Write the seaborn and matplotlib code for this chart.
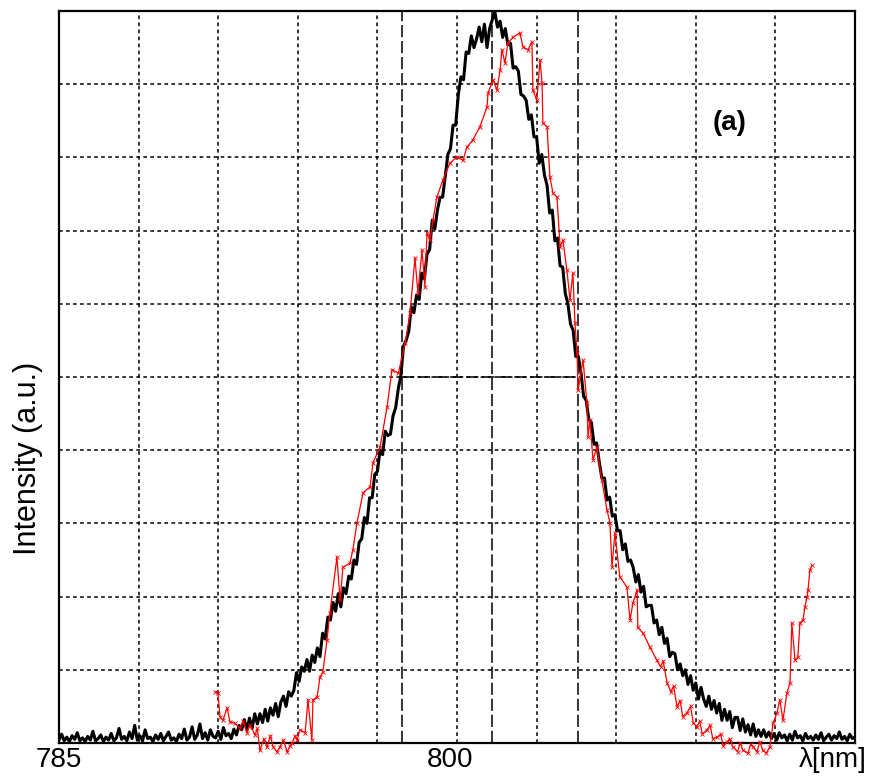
import numpy as np
import pandas as pd
import matplotlib
matplotlib.use("Agg")
import matplotlib.pyplot as plt
import seaborn as sns

# ---------------- data ----------------
# black spectrum, sampled every 0.1 nm starting at 785.0 nm (one row per nm)
black_start = 785.0
black_step = 0.1
black_rows = [
    [0.004, 0.012, 0.003, 0.008, 0.002, 0.010, 0.005, 0.014, 0.003, 0.007],  # 785
    [0.002, 0.009, 0.004, 0.016, 0.003, 0.006, 0.011, 0.002, 0.008, 0.004],  # 786
    [0.013, 0.003, 0.007, 0.020, 0.005, 0.009, 0.003, 0.015, 0.006, 0.024],  # 787
    [0.004, 0.010, 0.003, 0.018, 0.006, 0.008, 0.002, 0.011, 0.005, 0.013],  # 788
    [0.003, 0.009, 0.015, 0.004, 0.007, 0.002, 0.012, 0.006, 0.019, 0.004],  # 789
    [0.008, 0.022, 0.005, 0.011, 0.026, 0.006, 0.014, 0.004, 0.018, 0.009],  # 790
    [0.007, 0.016, 0.005, 0.021, 0.010, 0.013, 0.006, 0.019, 0.011, 0.024],  # 791
    [0.018, 0.032, 0.018, 0.034, 0.020, 0.040, 0.026, 0.040, 0.028, 0.046],  # 792
    [0.030, 0.048, 0.038, 0.054, 0.036, 0.056, 0.064, 0.050, 0.070, 0.064],  # 793
    [0.072, 0.096, 0.084, 0.104, 0.098, 0.114, 0.098, 0.120, 0.110, 0.130],  # 794
    [0.118, 0.150, 0.142, 0.172, 0.168, 0.192, 0.180, 0.204, 0.186, 0.212],  # 795
    [0.204, 0.228, 0.224, 0.250, 0.244, 0.274, 0.279, 0.308, 0.300, 0.335],  # 796
    [0.335, 0.367, 0.371, 0.400, 0.394, 0.426, 0.420, 0.422, 0.447, 0.458],  # 797
    [0.484, 0.502, 0.542, 0.550, 0.562, 0.596, 0.588, 0.612, 0.606, 0.642],  # 798
    [0.634, 0.668, 0.674, 0.714, 0.702, 0.728, 0.745, 0.746, 0.774, 0.804],  # 799
    [0.812, 0.844, 0.844, 0.886, 0.910, 0.906, 0.944, 0.942, 0.966, 0.950],  # 800
    [0.962, 0.978, 0.958, 0.982, 0.950, 0.976, 0.988, 0.999, 0.978, 0.986],  # 801
    [0.964, 0.976, 0.954, 0.956, 0.922, 0.924, 0.918, 0.886, 0.884, 0.878],  # 802
    [0.852, 0.858, 0.828, 0.828, 0.792, 0.804, 0.776, 0.762, 0.724, 0.728],  # 803
    [0.686, 0.690, 0.652, 0.650, 0.614, 0.600, 0.572, 0.564, 0.528, 0.528],  # 804
    [0.506, 0.474, 0.468, 0.442, 0.438, 0.408, 0.410, 0.384, 0.362, 0.362],  # 805
    [0.332, 0.336, 0.310, 0.312, 0.290, 0.290, 0.264, 0.272, 0.248, 0.250],  # 806
    [0.240, 0.220, 0.230, 0.206, 0.214, 0.186, 0.188, 0.188, 0.164, 0.168],  # 807
    [0.148, 0.158, 0.136, 0.143, 0.118, 0.124, 0.122, 0.100, 0.108, 0.092],  # 808
    [0.100, 0.080, 0.092, 0.072, 0.082, 0.060, 0.076, 0.060, 0.050, 0.064],  # 809
    [0.046, 0.058, 0.041, 0.054, 0.031, 0.046, 0.031, 0.043, 0.021, 0.035],  # 810
    [0.035, 0.017, 0.033, 0.015, 0.025, 0.011, 0.026, 0.009, 0.018, 0.009],  # 811
    [0.018, 0.008, 0.015, 0.006, 0.013, 0.004, 0.014, 0.007, 0.011, 0.003],  # 812
    [0.012, 0.004, 0.016, 0.007, 0.010, 0.003, 0.013, 0.006, 0.009, 0.004],  # 813
    [0.011, 0.005, 0.014, 0.003, 0.008, 0.012, 0.004, 0.010, 0.006, 0.015],  # 814
    [0.005, 0.009, 0.003, 0.012, 0.006, 0.008],                              # 815
]

# red spectrum (wavelength nm, intensity)
red_wl = [
    790.98, 791.09, 791.17, 791.28, 791.44, 791.55, 791.74, 791.93, 792.05, 792.20,
    792.32, 792.51, 792.60, 792.70, 792.85, 792.97, 793.10, 793.20, 793.35, 793.47,
    793.60, 793.74, 793.85, 793.93, 794.05, 794.12, 794.23, 794.43, 794.54, 794.69,
    794.73, 794.89, 795.00, 795.11, 795.27, 795.38, 795.65, 795.77, 795.88, 796.15,
    796.26, 796.42, 796.65, 796.92, 797.03, 797.30, 797.57, 797.76, 798.00, 798.26,
    798.45, 798.64, 798.75, 798.91, 799.02, 799.10, 799.21, 799.33, 799.48, 799.71,
    799.98, 800.25, 800.48, 800.63, 800.86, 801.13, 801.40, 801.44, 801.63, 801.78,
    801.90, 801.97, 802.09, 802.20, 802.39, 802.66, 802.78, 802.97, 803.12, 803.16,
    803.31, 803.43, 803.51, 803.54, 803.70, 803.81, 803.93, 804.08, 804.20, 804.31,
    804.46, 804.58, 804.69, 804.77, 804.85, 804.89, 805.08, 805.23, 805.27, 805.34,
    805.46, 805.61, 805.80, 806.00, 806.11, 806.19, 806.30, 806.49, 806.76, 806.88,
    806.99, 807.15, 807.18, 807.38, 807.64, 807.91, 808.05, 808.15, 808.30, 808.45,
    808.55, 808.68, 808.80, 808.90, 809.06, 809.20, 809.30, 809.44, 809.55, 809.65,
    809.83, 809.95, 810.05, 810.21, 810.35, 810.45, 810.59, 810.70, 810.82, 811.00,
    811.10, 811.21, 811.40, 811.50, 811.59, 811.75, 811.85, 811.97, 812.10, 812.24,
    812.36, 812.51, 812.62, 812.74, 812.89, 813.01, 813.08, 813.20, 813.31, 813.39,
    813.51, 813.58, 813.66, 813.70, 813.77, 813.85,
]
red_int = [
    0.070, 0.068, 0.036, 0.031, 0.048, 0.029, 0.027, 0.020, 0.030, 0.014,
    0.025, 0.011, 0.020, -0.010, 0.006, -0.006, 0.010, -0.005, -0.012, -0.005,
    0.004, -0.012, -0.004, 0.000, 0.010, 0.004, 0.018, 0.014, 0.059, 0.004,
    0.059, 0.063, 0.090, 0.097, 0.141, 0.178, 0.254, 0.195, 0.240, 0.246,
    0.264, 0.301, 0.342, 0.350, 0.383, 0.404, 0.459, 0.510, 0.505, 0.546,
    0.587, 0.663, 0.615, 0.673, 0.623, 0.697, 0.687, 0.714, 0.746, 0.769,
    0.792, 0.801, 0.796, 0.814, 0.824, 0.842, 0.869, 0.888, 0.906, 0.892,
    0.919, 0.947, 0.929, 0.956, 0.964, 0.970, 0.951, 0.947, 0.958, 0.892,
    0.878, 0.933, 0.902, 0.847, 0.842, 0.773, 0.751, 0.746, 0.678, 0.687,
    0.646, 0.605, 0.642, 0.574, 0.533, 0.482, 0.523, 0.464, 0.418, 0.441,
    0.387, 0.404, 0.359, 0.318, 0.301, 0.240, 0.287, 0.227, 0.213, 0.168,
    0.191, 0.209, 0.158, 0.150, 0.131, 0.113, 0.104, 0.112, 0.082, 0.070,
    0.078, 0.049, 0.058, 0.036, 0.041, 0.050, 0.028, 0.022, 0.030, 0.012,
    0.018, 0.024, 0.006, 0.008, 0.012, -0.004, 0.001, 0.006, -0.005, -0.012,
    0.000, -0.010, -0.014, -0.002, -0.005, -0.012, 0.002, -0.010, -0.014, -0.005,
    0.027, 0.041, 0.059, 0.031, 0.068, 0.082, 0.164, 0.113, 0.117, 0.164,
    0.168, 0.186, 0.199, 0.209, 0.236, 0.243,
]

# FWHM markers of the black spectrum
fwhm_left = 798.14
peak_wl = 801.59
fwhm_right = 804.89
half_max = 0.5

x_ticks = [785, 800]
x_tick_labels = ["785", "800"]

# ---------------- figure ----------------
sns.set_style("white")
plt.rcParams["font.family"] = ["Liberation Sans", "DejaVu Sans"]
for key in ("text.color", "axes.labelcolor", "xtick.color", "ytick.color", "axes.edgecolor"):
    plt.rcParams[key] = "black"

black_int = [v for row in black_rows for v in row]
black_wl = np.round(black_start + black_step * np.arange(len(black_int)), 2)
df_black = pd.DataFrame({"wl": black_wl, "I": black_int})
df_red = pd.DataFrame({"wl": red_wl, "I": red_int})

fig = plt.figure(figsize=(8.77, 7.78), dpi=100)
ax = fig.add_axes([59 / 877, 35 / 778, 796 / 877, 732 / 778])

xmin, xmax = 785.0, 815.5
ax.set_xlim(xmin, xmax)
ax.set_ylim(0, 1)

dot = (0, (2.4, 2.2))
for k in range(1, 10):
    ax.axvline(xmin + k * (xmax - xmin) / 10, color="black", lw=1.1, ls=dot, zorder=1)
    ax.axhline(k / 10, color="black", lw=1.1, ls=dot, zorder=1)

dash = (0, (8, 2.5))
for xv in (fwhm_left, peak_wl, fwhm_right):
    ax.axvline(xv, color="black", lw=1.1, ls=dash, zorder=1.5)
ax.hlines(half_max, fwhm_left, fwhm_right, color="black", lw=1.1, ls=dash, zorder=1.5)

sns.lineplot(data=df_black, x="wl", y="I", ax=ax, estimator=None, sort=False,
             color="black", lw=2.2, zorder=3)
sns.lineplot(data=df_red, x="wl", y="I", ax=ax, estimator=None, sort=False,
             color="#ff0000", lw=0.9, marker="x", markersize=2.5, mew=0.6,
             markeredgecolor="#ff0000", zorder=4, clip_on=False)

ax.set_xticks(x_ticks)
ax.set_xticklabels(x_tick_labels, fontsize=20)
ax.tick_params(axis="x", length=0, pad=3)
ax.set_yticks([])
ax.set_xlabel("")
ax.set_ylabel("Intensity (a.u.)", fontsize=22)
ax.yaxis.set_label_coords(-0.020, 0.389)

for sp in ax.spines.values():
    sp.set_visible(True)
    sp.set_color("black")
    sp.set_linewidth(1.6)

ax.text(0.842, 0.847, "(a)", transform=ax.transAxes, fontsize=20,
        fontweight="bold", ha="center", va="center")
fig.text(833 / 877, 1 - 760 / 778, "λ[nm]", fontsize=20, ha="center", va="center")

fig.savefig("out.png", dpi=100)
